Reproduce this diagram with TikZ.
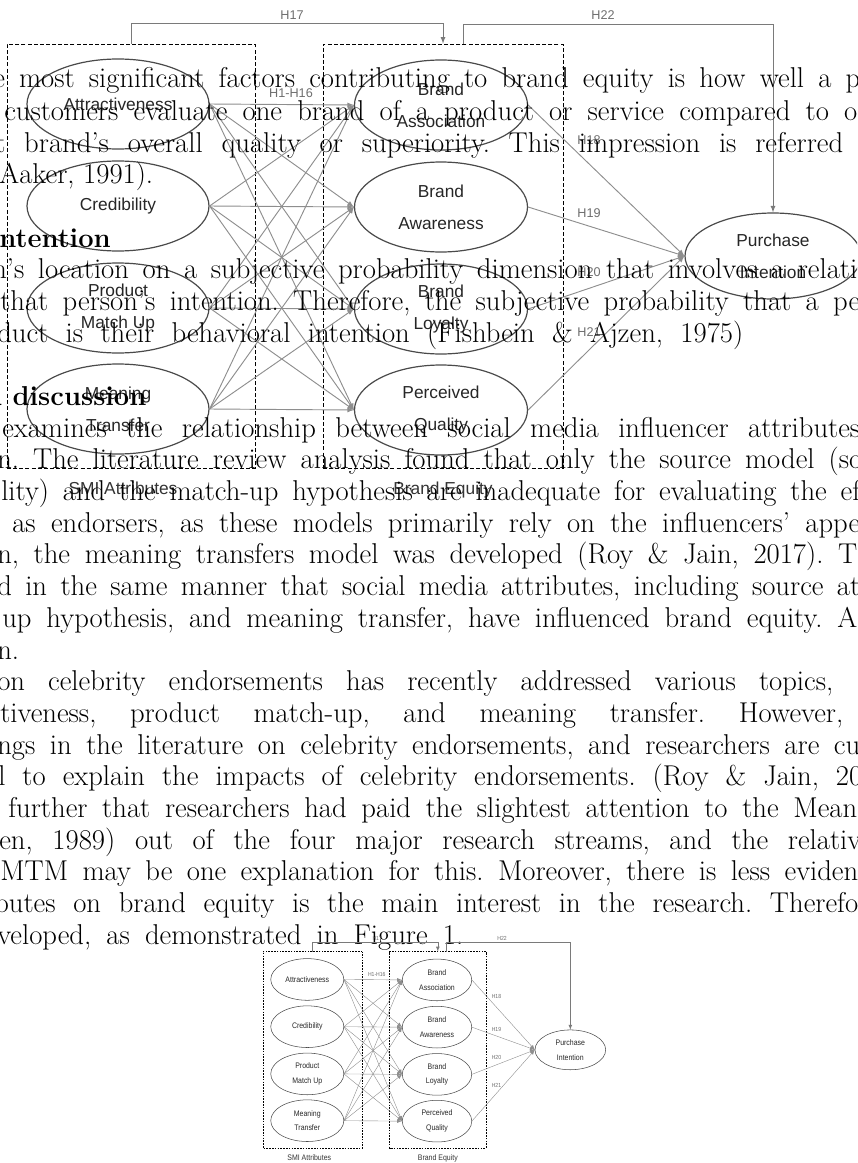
\documentclass[tikz,border=0pt]{standalone}
\usepackage{fontspec}
\usepackage{xcolor}
\usepackage{tikz}
\usetikzlibrary{arrows}
\usetikzlibrary{shapes.geometric}

\newfontfamily\diagfont{Liberation Sans}
\newlength\pxu
\setlength\pxu{0.75pt}
\newcommand\jline[2]{\makebox[#1\pxu][s]{#2}}
\frenchspacing

\definecolor{ellgray}{HTML}{4A4A4A}
\definecolor{lnkgray}{HTML}{8E8E8E}
\definecolor{hypgray}{HTML}{7A7A7A}
\definecolor{hgray}{HTML}{6E6E6E}
\definecolor{capgray}{HTML}{333333}

\tikzset{
 ell/.style={ellipse, draw=ellgray, line width=0.9pt, inner sep=0pt, align=center,
   text=black!85, font=\diagfont\fontsize{13}{24}\selectfont},
 lell/.style={ell, minimum width=182\pxu, minimum height=90\pxu},
 rell/.style={ell, minimum width=173\pxu, minimum height=90\pxu},
 grp/.style={rectangle, draw=black, line width=0.6pt, dash pattern=on 3pt off 1.6pt, inner sep=0pt},
 lnk/.style={-latex, draw=lnkgray, line width=0.7pt},
 hyp/.style={-latex, draw=hypgray, line width=0.7pt},
 hlab/.style={inner sep=0pt, text=hgray, font=\diagfont\fontsize{9.5}{11}\selectfont},
 glab/.style={inner sep=0pt, text=capgray, font=\diagfont\fontsize{13}{15}\selectfont},
 body/.style={anchor=base west, inner sep=0pt, font=\fontsize{21.5}{24}\selectfont},
 head/.style={anchor=base west, inner sep=0pt, font=\fontsize{20.5}{24}\selectfont\bfseries},
 model/.pic={
  % SMI attributes
  \node [lell] (-attr) at (118,104) {Attractiveness};
  \node [lell] (-cred) at (118,206) {Credibility};
  \node [lell] (-prod) at (118,308) {Product\\Match Up};
  \node [lell] (-mean) at (118,409) {Meaning\\Transfer};
  % brand equity
  \node [rell] (-assoc) at (441,105) {Brand\\Association};
  \node [rell] (-aware) at (441,207) {Brand\\Awareness};
  \node [rell] (-loyal) at (441,309) {Brand\\Loyalty};
  \node [rell] (-qual) at (441,410) {Perceived\\Quality};
  \node [ell, minimum width=176\pxu, minimum height=86\pxu] (-pi) at (773,256) {Purchase\\Intention};
  % groups
  \node [grp, minimum width=248\pxu, minimum height=424\pxu] (-smi) at (131,256) {};
  \node [grp, minimum width=240\pxu, minimum height=424\pxu] (-be) at (443,256) {};
  \node [glab] (-smilab) at (123,488) {SMI Attributes};
  \node [glab] (-belab) at (443,490) {Brand Equity};
  \coordinate (-h22) at (463,44);
  % H1-H16
  \foreach \a in {attr,cred,prod,mean}
   \foreach \b in {assoc,aware,loyal,qual}
    \draw [lnk] (-\a.east) to (-\b.west);
  \node [hlab] (-h1) at (291,93) {H1-H16};
  % H18-H21
  \draw [lnk] (-assoc.east) to (-pi.west);
  \draw [lnk] (-aware.east) to (-pi.west);
  \draw [lnk] (-loyal.east) to (-pi.west);
  \draw [lnk] (-qual.east) to (-pi.west);
  \node [hlab] (-h18) at (589,140) {H18};
  \node [hlab] (-h19) at (589,213) {H19};
  \node [hlab] (-h20) at (589,272) {H20};
  \node [hlab] (-h21) at (589,332) {H21};
  % H17, H22
  \draw [hyp] (-smi.north) -- ++(0,-20) -| (-be.north);
  \draw [hyp] (-h22) -- ++(0,-20) -| (-pi.north);
  \node [hlab] (-h17) at (292,15) {H17};
  \node [hlab] (-h22lab) at (603,15) {H22};
 }
}

\begin{document}
\begin{tikzpicture}[x=0.75pt, y=-0.75pt]
 \useasboundingbox (0,0) rectangle (857,1163);
 \clip (0,0) rectangle (857,1163);

 \pic (big) at (0,0) {model};

 % page text
 \node [body] (t0) at (-7,88) {\jline{867}{e most significant factors contributing to brand equity is how well a p}};
 \node [body] (t1) at (4,120) {\jline{853}{customers evaluate one brand of a product or service compared to o}};
 \node [body] (t2) at (-5,152) {\jline{848}{t brand's overall quality or superiority. This impression is referred}};
 \node [body] (t3) at (-11,183) {(Aaker, 1991).};
 \node [head] (t5) at (-1,247) {ntention};
 \node [body] (t6) at (-8,278) {\jline{865}{n's location on a subjective probability dimension that involves a relati}};
 \node [body] (t7) at (0,310) {\jline{860}{that person's intention. Therefore, the subjective probability that a pe}};
 \node [body] (t8) at (-3,342) {\jline{746}{duct is their behavioral intention (Fishbein \& Ajzen, 1975)}};
 \node [head] (t10) at (-15,405) {d discussion};
 \node [body] (t11) at (2,437) {\jline{858}{examines the relationship between social media influencer attributes}};
 \node [body] (t12) at (-3,468) {\jline{865}{n. The literature review analysis found that only the source model (so}};
 \node [body] (t13) at (1,500) {\jline{859}{lity) and the match-up hypothesis are inadequate for evaluating the ef}};
 \node [body] (t14) at (12,532) {\jline{848}{as endorsers, as these models primarily rely on the influencers' appe}};
 \node [body] (t15) at (-3,563) {\jline{860}{n, the meaning transfers model was developed (Roy \& Jain, 2017). T}};
 \node [body] (t16) at (-3,595) {\jline{863}{d in the same manner that social media attributes, including source at}};
 \node [body] (t17) at (2,627) {\jline{855}{up hypothesis, and meaning transfer, have influenced brand equity. A}};
 \node [body] (t18) at (-3,659) {n.};
 \node [body] (t19) at (-3,690) {\jline{836}{on celebrity endorsements has recently addressed various topics,}};
 \node [body] (t20) at (0,722) {\jline{843}{tiveness, product match-up, and meaning transfer. However,}};
 \node [body] (t21) at (-3,754) {\jline{863}{ngs in the literature on celebrity endorsements, and researchers are cu}};
 \node [body] (t22) at (-2,785) {\jline{864}{l to explain the impacts of celebrity endorsements. (Roy \& Jain, 20}};
 \node [body] (t23) at (8,817) {\jline{849}{further that researchers had paid the slightest attention to the Mean}};
 \node [body] (t24) at (-1,849) {\jline{862}{en, 1989) out of the four major research streams, and the relativ}};
 \node [body] (t25) at (0,880) {\jline{858}{MTM may be one explanation for this. Moreover, there is less eviden}};
 \node [body] (t26) at (-6,912) {\jline{864}{butes on brand equity is the main interest in the research. Therefo}};
 \node [body] (t27) at (-3,944) {\jline{466}{veloped, as demonstrated in Figure 1.}};

 % figure 1
 \pic [xscale=0.4016, yscale=0.463, transform shape,
   ell/.append style={line width=0.4pt},
   grp/.append style={line width=0.3pt, dash pattern=on 1.2pt off 0.9pt},
   lnk/.append style={line width=0.3pt},
   hyp/.append style={line width=0.3pt}] (sm) at (259.9,931.3) {model};
\end{tikzpicture}
\end{document}
